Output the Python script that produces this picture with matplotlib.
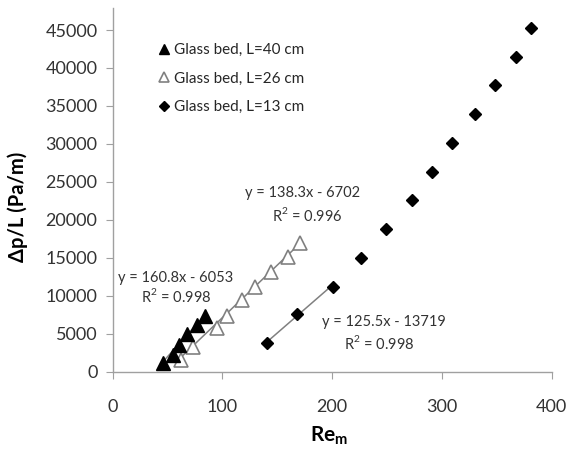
import matplotlib
matplotlib.use('Agg')
import matplotlib.pyplot as plt
import numpy as np

plt.rcParams['font.family'] = ['Lato', 'DejaVu Sans']
plt.rcParams['mathtext.fontset'] = 'custom'
plt.rcParams['mathtext.bf'] = 'Lato:bold'
plt.rcParams['mathtext.rm'] = 'Lato'

# L = 40 cm (filled triangles)
re40 = [46.1, 54.7, 60.7, 68.0, 76.5, 84.1]
dp40 = [1100, 2200, 3500, 5000, 6100, 7300]

# L = 26 cm (open triangles)
re26 = [62.2, 73.4, 94.8, 104.4, 117.5, 129.7, 144.2, 160.0, 170.7]
dp26 = [1540, 3300, 5700, 7340, 9420, 11180, 13070, 15050, 16900]

# L = 13 cm (diamonds)
re13 = [140.3, 168.2, 200.5, 226.2, 248.7, 272.4, 290.9, 309.4, 330.4, 348.6, 367.5, 380.9]
dp13 = [3740, 7560, 11120, 15020, 18810, 22630, 26320, 30100, 33920, 37750, 41440, 45210]

# trendline coefficients shown in the chart
fit40 = (160.8, -6053, 0.998)
fit26 = (138.3, -6702, 0.996)
fit13 = (125.5, -13719, 0.998)
n13fit = 3   # the L=13 trendline only covers the first 3 points

labels = ['Glass bed, L=40 cm', 'Glass bed, L=26 cm', 'Glass bed, L=13 cm']

fig = plt.figure(figsize=(5.67, 4.5), dpi=100)
ax = fig.add_axes([0.1988, 0.174, 0.7743, 0.8082])

gray = '#808080'

def trend(xs, c):
    xx = np.array([min(xs), max(xs)])
    ax.plot(xx, c[0] * xx + c[1], color=gray, lw=1.1, zorder=1)

trend(re40, fit40)
trend(re26, fit26)
trend(re13[:n13fit], fit13)

ax.plot(re40, dp40, ls='none', marker='^', ms=10, color='black', label=labels[0], zorder=3)
ax.plot(re26, dp26, ls='none', marker='^', ms=10, mfc='white', mec=gray, mew=1.2,
        label=labels[1], zorder=2)
ax.plot(re13, dp13, ls='none', marker='D', ms=6.3, color='black', label=labels[2], zorder=3)

def eqtext(x, y, c, x2, y2):
    ax.text(x, y, 'y = %.1fx - %d' % (c[0], -c[1]), ha='center', va='center', fontsize=10.5, color='#333333')
    ax.text(x2, y2, 'R$^\\mathregular{2}$ = %.3f' % c[2], ha='center', va='center', fontsize=10.5, color='#333333')

eqtext(57.7, 12350, fit40, 57.7, 9977)
eqtext(173.3, 23540, fit26, 176.8, 20650)
eqtext(247.2, 6550, fit13, 242.6, 3780)

ax.set_xlim(0, 400)
ax.set_ylim(0, 47900)
ax.set_xticks([0, 100, 200, 300, 400])
ax.set_yticks(np.arange(0, 45001, 5000))

for s in ['top', 'right']:
    ax.spines[s].set_visible(False)
for s in ['left', 'bottom']:
    ax.spines[s].set_color('#a0a0a0')
    ax.spines[s].set_linewidth(1.0)

ax.tick_params(axis='x', direction='out', length=5, color='#a0a0a0', pad=15, labelsize=13, labelcolor='#333333')
ax.tick_params(axis='y', direction='out', length=5, color='#a0a0a0', pad=6, labelsize=13, labelcolor='#333333')

ax.set_xlabel('$\\mathbf{Re_m}$', fontsize=15)
ax.xaxis.set_label_coords(0.493, -0.145)
ax.set_ylabel('\u0394p/L (Pa/m)', fontsize=14.5, fontweight='bold')
ax.yaxis.set_label_coords(-0.193, 0.452)

leg = ax.legend(loc='upper left', bbox_to_anchor=(0.09, 0.925), frameon=False, fontsize=11,
                markerscale=0.75, handlelength=0.6, handletextpad=0.3, labelspacing=0.95,
                borderpad=0)
for t in leg.get_texts():
    t.set_color('#262626')

fig.savefig('out.png', dpi=100)
